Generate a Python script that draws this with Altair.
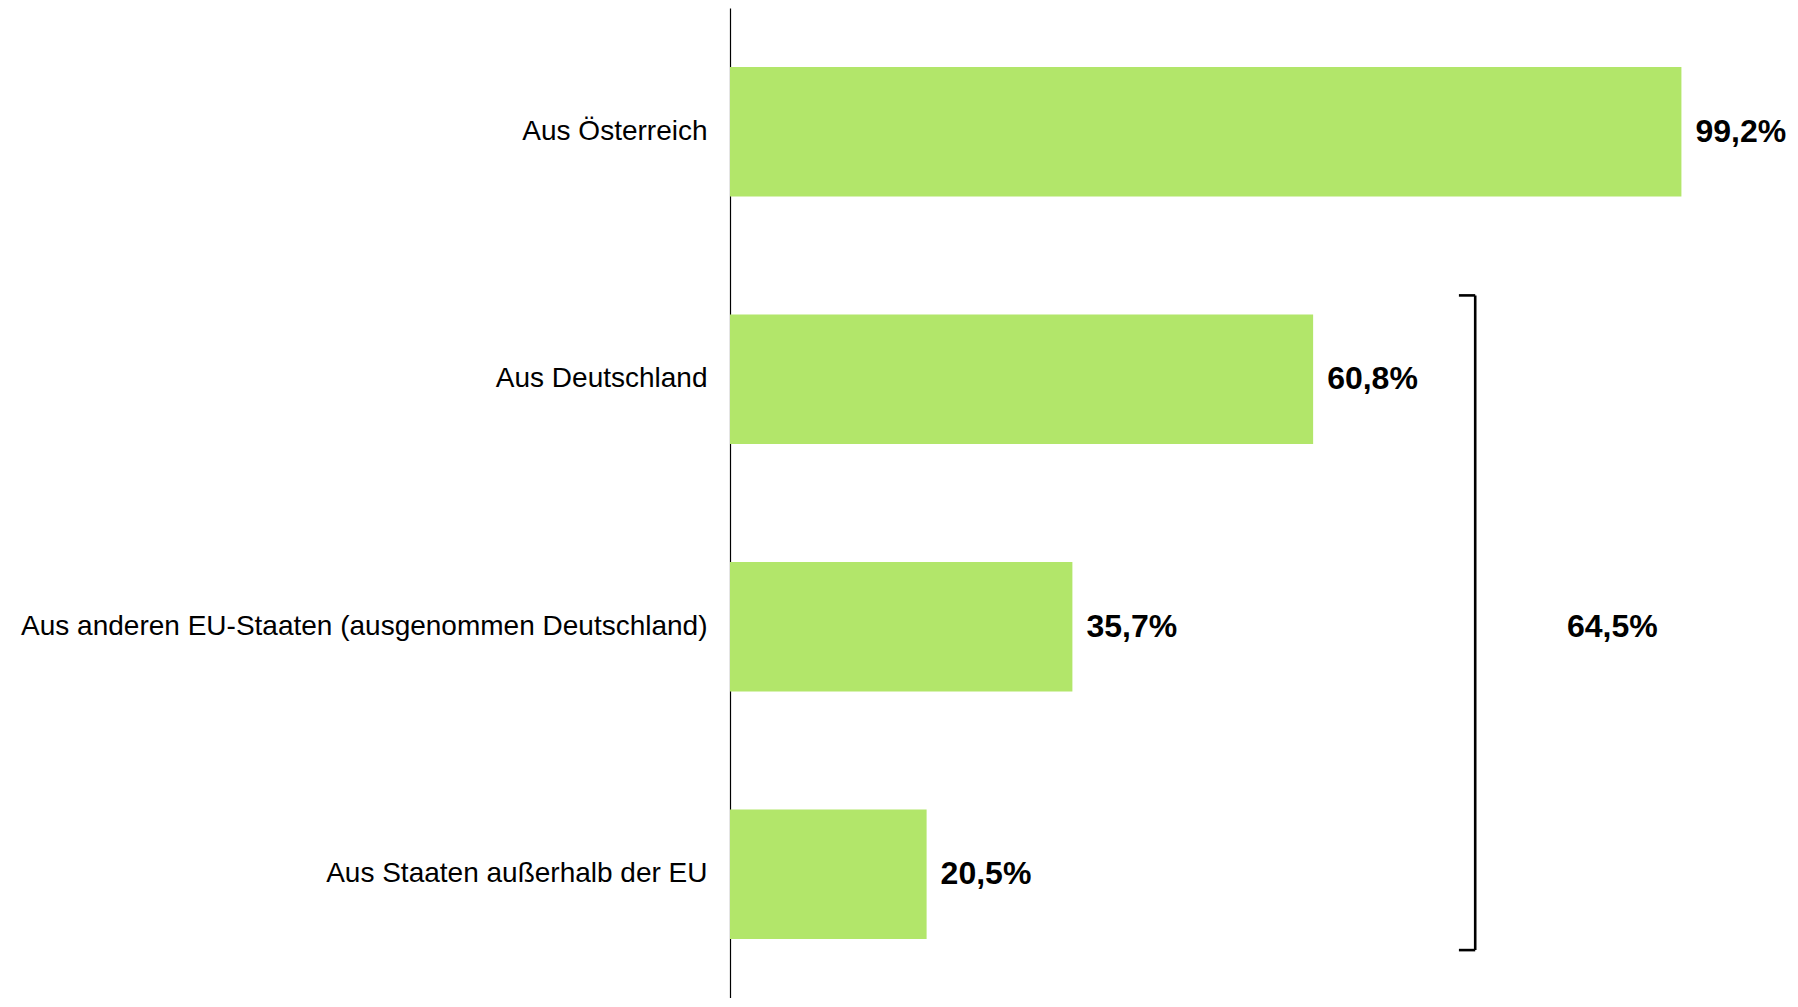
import altair as alt
import pandas as pd

categories = [
    "Aus Österreich",
    "Aus Deutschland",
    "Aus anderen EU-Staaten (ausgenommen Deutschland)",
    "Aus Staaten außerhalb der EU",
]
values = [99.2, 60.8, 35.7, 20.5]
value_labels = ["99,2%", "60,8%", "35,7%", "20,5%"]

bracket_label = "64,5%"
bracket_first = "Aus Deutschland"
bracket_last = "Aus Staaten außerhalb der EU"
bracket_x = 77.7
bracket_tick_x = 76.0
bracket_label_x = 92.0
bracket_label_cat = "Aus anderen EU-Staaten (ausgenommen Deutschland)"

FONT = "Liberation Sans"
GREEN = "#B2E66A"

df = pd.DataFrame({"cat": categories, "val": values, "lab": value_labels})

y_scale = alt.Scale(domain=categories, paddingInner=0.476, paddingOuter=0.238)
y_axis = alt.Axis(
    title=None,
    ticks=False,
    domainColor="#000000",
    domainWidth=1.2,
    labelFont=FONT,
    labelFontSize=28,
    labelColor="#000000",
    labelPadding=23,
    labelLimit=1000,
    grid=False,
)
x_scale = alt.Scale(domain=[0, 110], nice=False, zero=True)

bars = alt.Chart(df).mark_bar(color=GREEN).encode(
    x=alt.X("val:Q", scale=x_scale, axis=None),
    y=alt.Y("cat:N", scale=y_scale, axis=y_axis),
)

texts = alt.Chart(df).mark_text(
    align="left", baseline="middle", dx=14, font=FONT, fontSize=32,
    fontWeight="bold", color="#000000"
).encode(
    x=alt.X("val:Q", scale=x_scale, axis=None),
    y=alt.Y("cat:N", scale=y_scale),
    text="lab:N",
)

br_df = pd.DataFrame({
    "x": [bracket_x], "xt": [bracket_tick_x],
    "c1": [bracket_first], "c2": [bracket_last],
    "lx": [bracket_label_x], "lc": [bracket_label_cat], "lt": [bracket_label],
})

vline = alt.Chart(br_df).mark_rule(
    color="#000000", strokeWidth=2.6, yOffset=-19, y2Offset=11
).encode(
    x=alt.X("x:Q", scale=x_scale, axis=None),
    y=alt.Y("c1:N", scale=y_scale, bandPosition=0),
    y2=alt.Y2("c2:N", bandPosition=1),
)
top_tick = alt.Chart(br_df).mark_rule(
    color="#000000", strokeWidth=2.6, yOffset=-19
).encode(
    x=alt.X("xt:Q", scale=x_scale, axis=None),
    x2="x:Q",
    y=alt.Y("c1:N", scale=y_scale, bandPosition=0),
)
bot_tick = alt.Chart(br_df).mark_rule(
    color="#000000", strokeWidth=2.6, yOffset=11
).encode(
    x=alt.X("xt:Q", scale=x_scale, axis=None),
    x2="x:Q",
    y=alt.Y("c2:N", scale=y_scale, bandPosition=1),
)
br_text = alt.Chart(br_df).mark_text(
    align="center", baseline="middle", font=FONT, fontSize=32,
    fontWeight="bold", color="#000000"
).encode(
    x=alt.X("lx:Q", scale=x_scale, axis=None),
    y=alt.Y("lc:N", scale=y_scale),
    text="lt:N",
)

chart = alt.layer(bars, texts, vline, top_tick, bot_tick, br_text).properties(
    width=1055, height=990, background="#ffffff",
    padding={"left": 12, "top": 0, "right": 0, "bottom": 0}
).configure_view(strokeWidth=0, stroke=None)

chart.save("out.html", embed_options={"renderer": "svg", "actions": False})
